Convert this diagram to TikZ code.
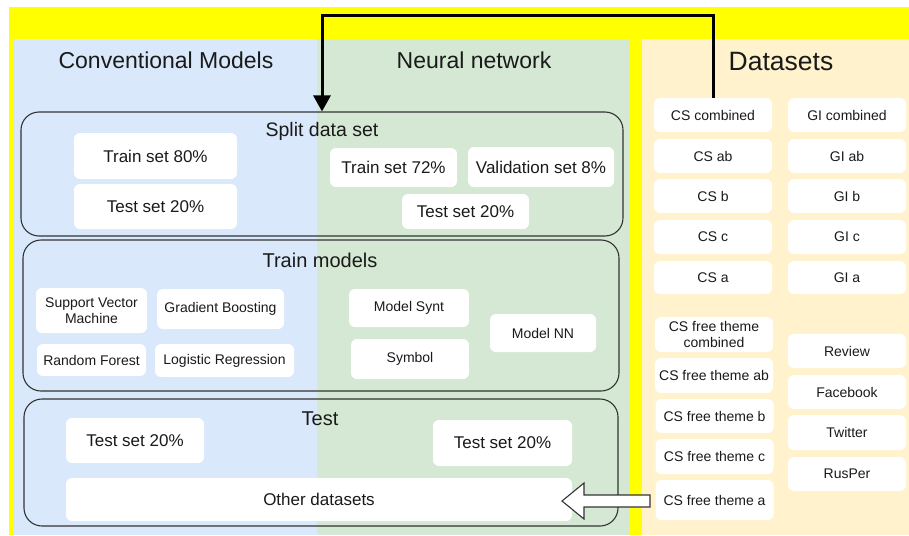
\documentclass[tikz,border=0pt]{standalone}
\usepackage{fontspec}
\setmainfont{Liberation Sans}
\usetikzlibrary{arrows.meta}
\definecolor{ylw}{HTML}{FFFF00}
\definecolor{pblue}{HTML}{DAE8FC}
\definecolor{pgreen}{HTML}{D5E8D4}
\definecolor{ppeach}{HTML}{FFF2CC}
\definecolor{txt}{HTML}{1A1A1A}
\definecolor{edge}{HTML}{333333}
\newcommand{\fs}[1]{\fontsize{#1}{1.15\dimexpr #1pt\relax}\selectfont}
\tikzset{
  wbox/.style={fill=white, draw=none, rounded corners=6pt, inner sep=0pt, align=center, text=txt},
  big/.style={wbox, font=\fs{17}},
  small/.style={wbox, font=\fs{14}},
  ds/.style={wbox, font=\fs{14}, minimum width=118pt},
  container/.style={draw=edge, line width=1.1pt, rounded corners=18pt, inner sep=0pt},
  ctitle/.style={font=\fs{20}, text=txt, inner sep=0pt},
  ptitle/.style={font=\fs{23}, text=txt, inner sep=0pt},
}
\begin{document}
\begin{tikzpicture}[x=1pt, y=-1pt]
\useasboundingbox (0,0) rectangle (909,535);
\fill[white] (0,0) rectangle (909,535);
% backgrounds
\fill[ylw] (9,7) rectangle (909,535);
\fill[pblue] (14,39) rectangle (317,535);
\fill[pgreen] (317,39) rectangle (630,535);
\fill[ppeach] (642,39) rectangle (909,535);
% panel titles
\node[ptitle] (tconv) at (166,60) {Conventional Models};
\node[ptitle] (tnn) at (474,60) {Neural network};
\node[ptitle, font=\fs{26.5}] (tds) at (781,62) {Datasets};
% containers
\node[container, minimum width=602pt, minimum height=124pt] (split) at (322,174) {};
\node[container, minimum width=596pt, minimum height=151pt] (train) at (321,315.5) {};
\node[container, minimum width=594pt, minimum height=127pt] (test) at (321,462.5) {};
\node[ctitle, font=\fs{19.5}] (tsplit) at (322,131) {Split data set};
\node[ctitle] (ttrain) at (320,260) {Train models};
\node[ctitle] (ttest) at (320,419) {Test};
% split boxes
\node[big, minimum width=163pt, minimum height=46pt] (tr80) at (155.5,156) {Train set 80\%};
\node[big, minimum width=163pt, minimum height=45pt] (te20a) at (155.5,206.5) {Test set 20\%};
\node[big, minimum width=127pt, minimum height=39pt] (tr72) at (393.5,167.5) {Train set 72\%};
\node[big, minimum width=146pt, minimum height=40pt] (val8) at (541,167) {Validation set 8\%};
\node[big, minimum width=127pt, minimum height=35pt] (te20b) at (465.5,211.5) {Test set 20\%};
% train boxes
\node[small, minimum width=111pt, minimum height=45pt] (svm) at (91.5,310.5) {Support Vector\\Machine};
\node[small, minimum width=127pt, minimum height=40pt] (gb) at (220.5,309) {Gradient Boosting};
\node[small, minimum width=109pt, minimum height=32pt] (rf) at (91.5,360) {Random Forest};
\node[small, minimum width=139pt, minimum height=33pt] (lr) at (224.5,360.5) {Logistic Regression};
\node[small, minimum width=120pt, minimum height=38pt] (synt) at (409,308) {Model Synt};
\node[small, minimum width=118pt, minimum height=40pt] (sym) at (410,359) {Symbol};
\node[small, minimum width=106pt, minimum height=38pt] (mnn) at (543,333) {Model NN};
% test boxes
\node[big, minimum width=138pt, minimum height=45pt] (te20c) at (135,440.5) {Test set 20\%};
\node[big, minimum width=139pt, minimum height=46pt] (te20d) at (502.5,443) {Test set 20\%};
\node[big, minimum width=506pt, minimum height=43pt] (other) at (319,499.5) {Other datasets};
% datasets CS
\node[ds, minimum height=34pt] (cscomb) at (713,115) {CS combined};
\node[ds, minimum height=34pt] (csab) at (713,156) {CS ab};
\node[ds, minimum height=34pt] (csb) at (713,196) {CS b};
\node[ds, minimum height=34pt] (csc) at (713,237) {CS c};
\node[ds, minimum height=33pt] (csa) at (713,277.5) {CS a};
\node[ds, minimum height=35pt] (cfcomb) at (714,334.5) {CS free theme\\combined};
\node[ds, minimum height=35pt] (cfab) at (714,375.5) {CS free theme ab};
\node[ds, minimum height=34pt] (cfb) at (714.5,416) {CS free theme b};
\node[ds, minimum height=35pt] (cfc) at (714.5,456.5) {CS free theme c};
\node[ds, minimum height=40pt] (cfa) at (714.5,500) {CS free theme a};
% datasets GI
\node[ds, minimum height=34pt] (gicomb) at (847,115) {GI combined};
\node[ds, minimum height=34pt] (giab) at (847,156) {GI ab};
\node[ds, minimum height=34pt] (gib) at (847,196) {GI b};
\node[ds, minimum height=34pt] (gic) at (847,237) {GI c};
\node[ds, minimum height=33pt] (gia) at (847,277.5) {GI a};
\node[ds, minimum height=34pt] (review) at (847,351) {Review};
\node[ds, minimum height=34pt] (fb) at (847,392) {Facebook};
\node[ds, minimum height=35pt] (tw) at (847,432.5) {Twitter};
\node[ds, minimum height=34pt] (rusper) at (847,474) {RusPer};
% connector from datasets to split
\coordinate (topy) at (0,16);
\draw[line width=3pt, -{Triangle[length=16pt,width=17pt]}]
  (cscomb.north) -- (cscomb.north |- topy) -| (split.north);
% hollow arrow from datasets to other datasets
\draw[draw=edge, line width=1.1pt, fill=white, line join=miter]
  (650,495) -- (584,495) -- (584,483) -- (562,501) -- (584,519) -- (584,507) -- (650,507) -- cycle;
\end{tikzpicture}
\end{document}
